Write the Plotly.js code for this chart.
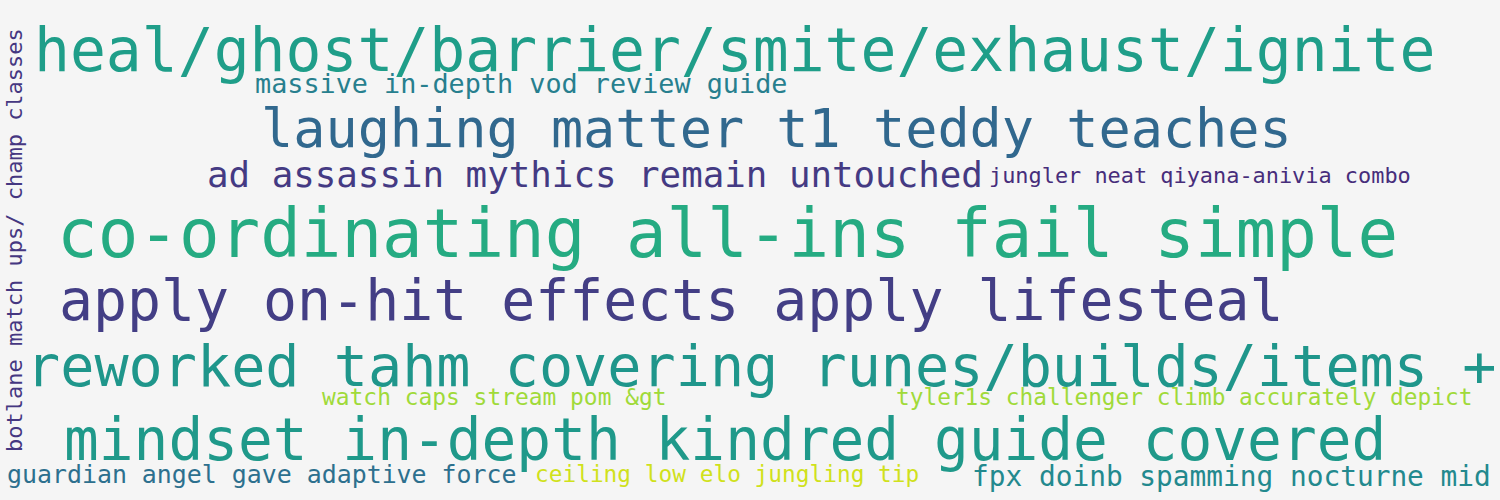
<!DOCTYPE html>
<html>
<head>
<meta charset="utf-8">
<script src="https://cdn.plot.ly/plotly-3.0.1.min.js"></script>
<style>body{margin:0;background:#f5f5f5}</style>
</head>
<body>
<div id="cloud" style="width:1500px;height:500px"></div>
<script>
// word cloud phrases, their spot in the 1500x500 frame, size and colour
const words = [
    'heal/ghost/barrier/smite/exhaust/ignite',
    'massive in-depth vod review guide',
    'laughing matter t1 teddy teaches',
    'ad assassin mythics remain untouched',
    'jungler neat qiyana-anivia combo',
    'co-ordinating all-ins fail simple',
    'apply on-hit effects apply lifesteal',
    'reworked tahm covering runes/builds/items +',
    'watch caps stream pom &amp;gt',
    'tyler1s challenger climb accurately depict',
    'mindset in-depth kindred guide covered',
    'guardian angel gave adaptive force',
    'ceiling low elo jungling tip',
    'fpx doinb spamming nocturne mid',
    'botlane match ups/ champ classes'
]
const wordX = [33, 254, 260, 206, 988, 56, 58, 25, 321, 895, 63, 6, 534, 971, 14]
const wordY = [50, 83, 128, 174, 175, 233, 300, 366, 397, 397, 440, 474, 474, 476, 240]
const wordSize = [59.7, 26.8, 53.5, 35.8, 21.9, 67.5, 56.5, 56.8, 22.9, 22.8, 57.8, 24.9, 22.8, 27.8, 22]
const wordColor = ['#1f9e89', '#277f8e', '#31688e', '#443a83', '#472d7b', '#25ab82', '#433e85',
    '#1f968b', '#a0da39', '#a0da39', '#1f998a', '#2d708e', '#d0e11c', '#23898e', '#453781']
const wordAngle = [0, 0, 0, 0, 0, 0, 0, 0, 0, 0, 0, 0, 0, 0, -90]

let annotations = words.map((w, i) => ({
    text: w,
    x: wordX[i],
    y: wordY[i],
    xref: 'x', yref: 'y',
    xanchor: wordAngle[i] ? 'center' : 'left',
    yanchor: 'middle',
    textangle: wordAngle[i],
    showarrow: false,
    borderpad: 0,
    font: {family: 'DejaVu Sans Mono', size: wordSize[i], color: wordColor[i]}
}))

let layout = {
    width: 1500, height: 500,
    margin: {l: 0, r: 0, t: 0, b: 0},
    paper_bgcolor: '#f5f5f5',
    plot_bgcolor: '#f5f5f5',
    xaxis: {range: [0, 1500], visible: false},
    yaxis: {range: [500, 0], visible: false},
    showlegend: false,
    annotations: annotations
}

Plotly.newPlot('cloud', [{x: [], y: [], type: 'scatter'}], layout, {staticPlot: true})
</script>
</body>
</html>
